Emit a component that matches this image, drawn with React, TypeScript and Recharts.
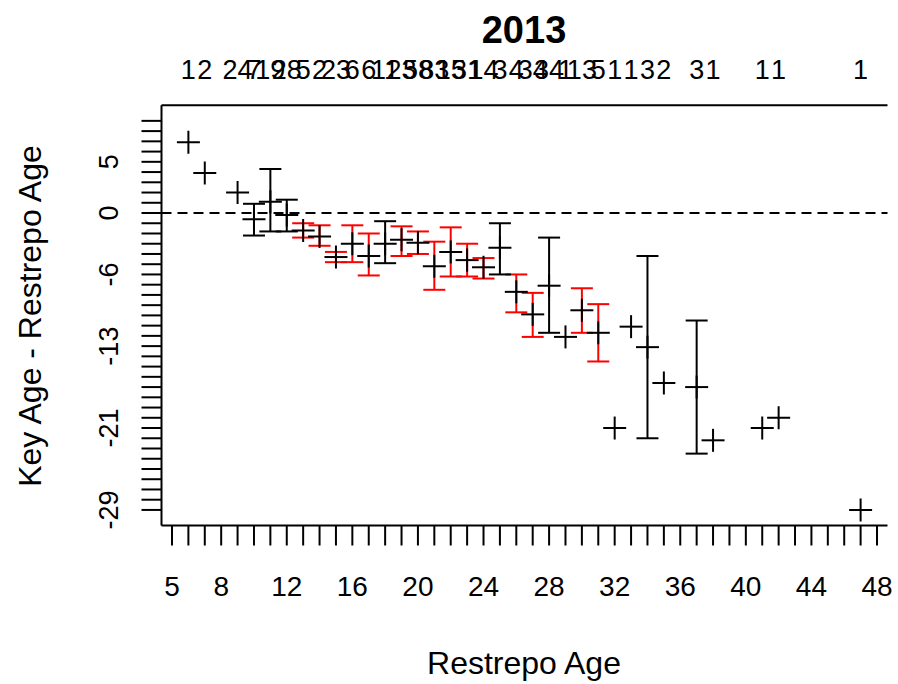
import React from 'react';
import { ScatterChart, Scatter, XAxis, YAxis, ErrorBar, ReferenceLine } from 'recharts';

// ages that have at least one fish, with the mean difference and its bar
const ages = [6, 7, 9, 10, 11, 12, 13, 14, 15, 16, 17, 18, 19, 20, 21, 22, 23, 24, 25, 26, 27, 28, 29, 30, 31, 32, 33, 34, 35, 37, 38, 41, 42, 47];
const meanDiff = [6.9, 3.9, 2.0, -0.6, 1.1, -0.2, -1.7, -2.3, -4.3, -3.0, -4.2, -3.0, -2.6, -2.9, -5.2, -3.8, -4.6, -5.3, -3.4, -7.7, -9.9, -7.1, -12.1, -9.5, -11.7, -21.0, -11.1, -13.1, -16.6, -17.0, -22.2, -21.0, -20.0, -29.0];
const upperBound = [null, null, null, 0.9, 4.3, 1.3, -1.0, -1.2, -3.8, -1.2, -2.0, -0.8, -1.3, -1.8, -2.8, -1.4, -3.0, -4.4, -1.0, -6.0, -7.8, -2.4, null, -7.35, -8.9, null, null, -4.2, null, -10.5, null, null, null, null];
const lowerBound = [null, null, null, -2.2, -1.8, -1.8, -2.4, -3.2, -4.8, -4.8, -6.1, -4.9, -4.2, -4.0, -7.5, -6.2, -6.2, -6.4, -6.0, -9.7, -12.1, -11.7, null, -11.7, -14.5, null, null, -22.0, null, -23.5, null, null, null, null];
const barColour = [null, null, null, 'black', 'black', 'black', 'red', 'red', 'red', 'red', 'red', 'black', 'red', 'red', 'red', 'red', 'red', 'red', 'black', 'red', 'red', 'black', null, 'red', 'red', null, null, 'black', null, 'black', null, null, null, null];
const sampleSize = [1, 2, 24, 7, 19, 28, 5, 2, 23, 6, 6, 11, 23, 58, 83, 15, 31, 14, 3, 4, 34, 34, 1, 13, 5, 1, 1, 3, 2, 3, 1, 1, 1, 1];

const xTicks = [5, 6, 7, 8, 9, 10, 11, 12, 13, 14, 15, 16, 17, 18, 19, 20, 21, 22, 23, 24, 25, 26, 27, 28, 29, 30, 31, 32, 33, 34, 35, 36, 37, 38, 39, 40, 41, 42, 43, 44, 45, 46, 47, 48];
const xLabels = [5, 8, 12, 16, 20, 24, 28, 32, 36, 40, 44, 48];
const yTicks = [-29, -28, -27, -26, -25, -24, -23, -22, -21, -20, -19, -18, -17, -16, -15, -14, -13, -12, -11, -10, -9, -8, -7, -6, -5, -4, -3, -2, -1, 0, 1, 2, 3, 4, 5, 6, 7, 8, 9];
const yLabels = [-29, -21, -13, -6, 0, 5];

const FONT = '"Liberation Sans", Arial, sans-serif';

const rows = ages.map((age, i) => ({
  age,
  diff: meanDiff[i],
  err: upperBound[i] == null ? null : [meanDiff[i] - (lowerBound[i] as number), (upperBound[i] as number) - meanDiff[i]],
  colour: barColour[i],
}));
const redRows = rows.filter((r) => r.colour === 'red');
const blackRows = rows.filter((r) => r.colour === 'black');
const plainRows = rows.filter((r) => r.colour == null);

const Cross = (props: any) => {
  const { cx, cy } = props;
  const a = 11.5;
  return (
    <g stroke="#000" strokeWidth={2}>
      <line x1={cx - a} y1={cy} x2={cx + a} y2={cy} />
      <line x1={cx} y1={cy - a} x2={cx} y2={cy + a} />
    </g>
  );
};

const BottomTick = (props: any) => {
  const { x, y, payload } = props;
  if (!xLabels.includes(payload.value)) return null;
  return (
    <text x={x} y={y + 50} textAnchor="middle" fontSize={28} fontFamily={FONT} fill="#000">
      {payload.value}
    </text>
  );
};

const LeftTick = (props: any) => {
  const { x, y, payload } = props;
  if (!yLabels.includes(payload.value)) return null;
  const tx = x - 23;
  return (
    <text x={tx} y={y} transform={`rotate(-90, ${tx}, ${y})`} textAnchor="middle" fontSize={27} fontFamily={FONT} fill="#000">
      {payload.value}
    </text>
  );
};

const TopTick = (props: any) => {
  const { x, y, payload } = props;
  const i = ages.indexOf(payload.value);
  if (i < 0) return null;
  return (
    <text x={x} y={y - 26} textAnchor="middle" fontSize={27} fontFamily={FONT} fill="#000">
      {sampleSize[i]}
    </text>
  );
};

const xDomain = [4.36, 48.64];
const yDomain = [-30.52, 10.52];
const line = { stroke: '#000', strokeWidth: 2 };

export default function App() {
  return (
    <div style={{ position: 'absolute', left: 0, top: 0, width: 898, height: 684, background: '#fff', fontFamily: FONT }}>
      <ScatterChart width={898} height={684} margin={{ top: 55.3, right: 10.5, bottom: 58.5, left: 61.5 }}>
        <XAxis
          xAxisId="bottom"
          type="number"
          dataKey="age"
          domain={xDomain}
          allowDataOverflow
          ticks={xTicks}
          interval={0}
          tickSize={20}
          tickMargin={0}
          tickLine={line}
          axisLine={line}
          tick={<BottomTick />}
          height={100}
        />
        <XAxis
          xAxisId="top"
          orientation="top"
          type="number"
          dataKey="age"
          domain={xDomain}
          allowDataOverflow
          ticks={ages}
          interval={0}
          tickSize={0}
          tickMargin={0}
          tickLine={false}
          axisLine={line}
          tick={<TopTick />}
          height={50}
        />
        <YAxis
          yAxisId="left"
          type="number"
          dataKey="diff"
          domain={yDomain}
          allowDataOverflow
          ticks={yTicks}
          interval={0}
          tickSize={20}
          tickMargin={0}
          tickLine={line}
          axisLine={line}
          tick={<LeftTick />}
          width={100}
        />
        <YAxis
          yAxisId="right"
          orientation="right"
          type="number"
          domain={yDomain}
          allowDataOverflow
          tick={false}
          tickLine={false}
          axisLine={line}
          width={0}
        />
        <ReferenceLine xAxisId="bottom" yAxisId="left" y={0} stroke="#000" strokeWidth={2} strokeDasharray="10 6" />
        <Scatter data={redRows} xAxisId="bottom" yAxisId="left" dataKey="diff" shape={<Cross />} isAnimationActive={false}>
          <ErrorBar dataKey="err" direction="y" width={11} stroke="#ff0000" strokeWidth={2} isAnimationActive={false} />
        </Scatter>
        <Scatter data={blackRows} xAxisId="bottom" yAxisId="left" dataKey="diff" shape={<Cross />} isAnimationActive={false}>
          <ErrorBar dataKey="err" direction="y" width={11} stroke="#000" strokeWidth={2} isAnimationActive={false} />
        </Scatter>
        <Scatter data={plainRows} xAxisId="bottom" yAxisId="left" dataKey="diff" shape={<Cross />} isAnimationActive={false} />
      </ScatterChart>
      <div style={{ position: 'absolute', left: 524, top: 30, transform: 'translate(-50%, -50%)', fontSize: 38, fontWeight: 'bold', whiteSpace: 'nowrap' }}>
        2013
      </div>
      <div style={{ position: 'absolute', left: 524, top: 663, transform: 'translate(-50%, -50%)', fontSize: 32, whiteSpace: 'nowrap' }}>
        Restrepo Age
      </div>
      <div style={{ position: 'absolute', left: 30, top: 316, transform: 'translate(-50%, -50%) rotate(-90deg)', fontSize: 32, whiteSpace: 'nowrap' }}>
        Key Age - Restrepo Age
      </div>
    </div>
  );
}
